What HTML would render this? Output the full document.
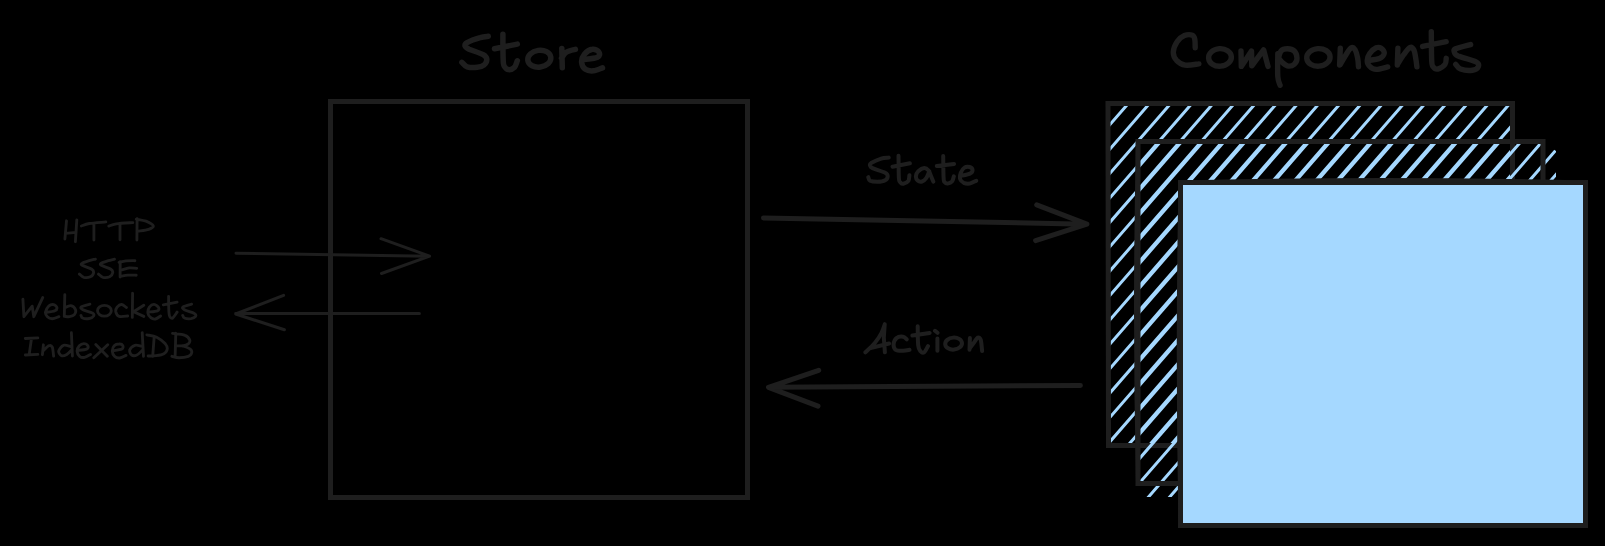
<!DOCTYPE html>
<html><head><meta charset="utf-8"><title>Store and Components</title>
<style>html,body{margin:0;padding:0;background:#000;width:1605px;height:546px;overflow:hidden;font-family:"Liberation Sans",sans-serif}svg{display:block}</style>
</head><body>
<svg width="1605" height="546" viewBox="0 0 1605 546">
<rect x="0" y="0" width="1605" height="546" fill="#000"/>
<defs>
<clipPath id="cb"><rect x="1110" y="105" width="401" height="339"/></clipPath>
<clipPath id="cm"><polygon points="1139,143 1544,143 1556,151 1556,497 1139,497"/></clipPath>
</defs>
<path clip-path="url(#cb)" d="M1081.3,60 L664.1,540 M1102.5,60 L685.3,540 M1123.7,60 L706.5,540 M1144.9,60 L727.7,540 M1166.1,60 L748.9,540 M1187.3,60 L770.1,540 M1208.5,60 L791.3,540 M1229.7,60 L812.5,540 M1250.9,60 L833.7,540 M1272.1,60 L854.9,540 M1293.3,60 L876.1,540 M1314.5,60 L897.3,540 M1335.7,60 L918.5,540 M1356.9,60 L939.7,540 M1378.1,60 L960.9,540 M1399.3,60 L982.1,540 M1420.5,60 L1003.3,540 M1441.7,60 L1024.5,540 M1462.9,60 L1045.7,540 M1484.1,60 L1066.9,540 M1505.3,60 L1088.1,540 M1526.5,60 L1109.3,540 M1547.7,60 L1130.5,540 M1568.9,60 L1151.7,540 M1590.1,60 L1172.9,540 M1611.3,60 L1194.1,540 M1632.5,60 L1215.3,540 M1653.7,60 L1236.5,540 M1674.9,60 L1257.7,540 M1696.1,60 L1278.9,540 M1717.3,60 L1300.1,540 M1738.5,60 L1321.3,540 M1759.7,60 L1342.5,540 M1780.9,60 L1363.7,540 M1802.1,60 L1384.9,540 M1823.3,60 L1406.1,540 M1844.5,60 L1427.3,540 M1865.7,60 L1448.5,540 M1886.9,60 L1469.7,540 M1908.1,60 L1490.9,540 M1929.3,60 L1512.1,540 M1950.5,60 L1533.3,540 M1971.7,60 L1554.5,540 M1992.9,60 L1575.7,540 M2014.1,60 L1596.9,540" stroke="#a5d8ff" stroke-width="3.0" fill="none"/>
<path d="M1108,103.5 L1512.5,103.5 L1512.5,445.5 L1108.5,445.5 Z" fill="none" stroke="#1e1e1e" stroke-width="5" stroke-linejoin="miter"/>
<path clip-path="url(#cm)" d="M1083.1,60 L665.9,540 M1104.3,60 L687.1,540 M1125.5,60 L708.3,540 M1146.7,60 L729.5,540 M1167.9,60 L750.7,540 M1189.1,60 L771.9,540 M1210.3,60 L793.1,540 M1231.5,60 L814.3,540 M1252.7,60 L835.5,540 M1273.9,60 L856.7,540 M1295.1,60 L877.9,540 M1316.3,60 L899.1,540 M1337.5,60 L920.3,540 M1358.7,60 L941.5,540 M1379.9,60 L962.7,540 M1401.1,60 L983.9,540 M1422.3,60 L1005.1,540 M1443.5,60 L1026.3,540 M1464.7,60 L1047.5,540 M1485.9,60 L1068.7,540 M1507.1,60 L1089.9,540 M1528.3,60 L1111.1,540 M1549.5,60 L1132.3,540 M1570.7,60 L1153.5,540 M1591.9,60 L1174.7,540 M1613.1,60 L1195.9,540 M1634.3,60 L1217.1,540 M1655.5,60 L1238.3,540 M1676.7,60 L1259.5,540 M1697.9,60 L1280.7,540 M1719.1,60 L1301.9,540 M1740.3,60 L1323.1,540 M1761.5,60 L1344.3,540 M1782.7,60 L1365.5,540 M1803.9,60 L1386.7,540 M1825.1,60 L1407.9,540 M1846.3,60 L1429.1,540 M1867.5,60 L1450.3,540 M1888.7,60 L1471.5,540 M1909.9,60 L1492.7,540 M1931.1,60 L1513.9,540 M1952.3,60 L1535.1,540 M1973.5,60 L1556.3,540 M1994.7,60 L1577.5,540 M2015.9,60 L1598.7,540" stroke="#a5d8ff" stroke-width="3.0" fill="none"/>
<path d="M1138,141.5 L1543,141.5 L1543,483.5 L1138,483.5 Z" fill="none" stroke="#1e1e1e" stroke-width="5"/>
<path d="M1180.5,182.5 L1585.5,182.5 L1585.5,525.5 L1180.5,525.5 Z" fill="#a5d8ff" stroke="#1e1e1e" stroke-width="5"/>
<path d="M1181,182.5 Q1383,177.5 1585,182.5 M1180.5,183 Q1177,350 1180.5,525.5 M1138,142 Q1134,310 1138,483" fill="none" stroke="#1e1e1e" stroke-width="4"/>
<path d="M330.5,101.5 L747.5,101.5 L747.5,497.5 L330.5,497.5 Z" fill="none" stroke="#1e1e1e" stroke-width="5"/>
<path d="M236,253.2 L429.6,256.2 M381,238.7 L429.6,256.1 L381.5,273.5" fill="none" stroke="#1e1e1e" stroke-width="3" stroke-linecap="round" stroke-linejoin="round"/>
<path d="M419.4,313.6 L235.7,313.5 M283.6,295.3 L235.7,314 L284.4,329.8" fill="none" stroke="#1e1e1e" stroke-width="3" stroke-linecap="round" stroke-linejoin="round"/>
<path d="M763.5,217.9 L1086.9,224.2 M1036.7,204.8 L1086.9,224.2 L1035.6,240.6" fill="none" stroke="#1e1e1e" stroke-width="5" stroke-linecap="round" stroke-linejoin="round"/>
<path d="M1080.4,385.5 L768.5,387.3 M818.7,370.3 L768.5,387.3 L818,406.2" fill="none" stroke="#1e1e1e" stroke-width="5" stroke-linecap="round" stroke-linejoin="round"/>
<path d="M66.5,220.8 L64.9,239 M76.8,219.9 L75.4,241.7 M65.6,233.4 L76.1,232.3 M81.4,226 C82.7,225.6 85.2,224.2 89.3,223.5 C93.4,222.9 103,222.2 105.8,221.9 M93.9,223.7 L93.9,240 M108.8,226.1 C110,225.7 112.3,224.5 116.3,223.9 C120.4,223.3 130.1,222.8 132.8,222.6 M120,224.2 L120,239.7 M137.1,218.6 L136.9,240 M136.3,219.1 C137.9,219.5 143.2,220.1 146,221.2 C148.9,222.4 152.8,224.5 153.3,225.9 C153.7,227.2 151.2,228.4 148.7,229.3 C146.1,230.2 139.9,230.8 138.1,231.1 M95.4,259.1 C94.3,259.4 91.3,260 89.1,260.7 C86.9,261.4 83.3,262.4 82.2,263.2 C81,264 80.6,264.3 82.2,265.3 C83.8,266.3 89.9,268 91.8,269.2 C93.7,270.5 93.8,271.5 93.6,272.7 C93.4,274 92.1,275.9 90.4,276.7 C88.8,277.5 85.7,277.8 83.8,277.4 C82,276.9 80.1,274.6 79.4,274.1 M114.5,259.1 C113.5,259.4 110.4,260 108.2,260.7 C106,261.4 102.5,262.4 101.3,263.2 C100.2,264 99.7,264.3 101.3,265.3 C102.9,266.3 109,268 110.9,269.2 C112.8,270.5 112.9,271.5 112.7,272.7 C112.5,274 111.2,275.9 109.6,276.7 C107.9,277.5 104.8,277.8 103,277.4 C101.1,276.9 99.2,274.6 98.5,274.1 M120.2,261.7 L120.1,277 M119.1,262.4 C120.3,262.1 123.4,261.2 126,260.9 C128.7,260.6 133.4,260.7 134.9,260.7 M122.1,269.8 C123.3,269.5 126.9,268.2 129.3,267.9 C131.8,267.7 135.5,268.3 136.7,268.3 M120.2,276.4 C121.5,276.2 125.3,275.4 128,275.2 C130.7,275 134.9,275.2 136.2,275.2 M22.9,299.2 L23.9,316.7 L32.2,306.2 L33.8,316.7 L42.7,297.6 M45.7,312.4 C47.2,312.2 53.1,311.6 54.9,310.8 C56.8,310 57.1,308.5 56.9,307.5 C56.7,306.5 54.9,304.9 53.6,304.6 C52.3,304.4 50.4,304.6 49,305.8 C47.7,307.1 45.8,310.3 45.5,312.1 C45.2,313.9 46.2,315.6 47.4,316.7 C48.5,317.8 50.4,318.7 52.3,318.7 C54.2,318.7 57.8,317 58.9,316.7 M64.8,294.7 L64.3,316.4 M64.5,307.8 C65.5,307.4 69,305.4 70.8,305.6 C72.6,305.9 74.8,307.9 75.4,309.5 C76,311 75.4,313.5 74.4,314.7 C73.4,315.9 71.1,316.4 69.5,316.7 C67.8,317 65.3,316.4 64.5,316.4 M89.9,304.2 C88.5,304.6 82.5,305.9 81.3,306.8 C80.2,307.8 81.1,308.7 83,309.8 C84.8,310.8 90.8,312 92.5,313.1 C94.3,314.1 94.1,315.2 93.5,316.1 C93,317 91.1,318.2 89.2,318.5 C87.4,318.8 84,318.6 82.6,318 C81.3,317.5 81.3,315.8 81,315.4 M126.4,307.5 C125.6,307 123.3,304.6 121.8,304.5 C120.2,304.4 118.1,305.9 117.1,307.1 C116.2,308.3 115.5,310.2 115.8,311.8 C116.2,313.3 117.1,315.7 119.1,316.4 C121.1,317.1 126.3,316.1 127.7,316 M132.6,293.3 L132.3,317.4 M143.8,305.2 L133.6,311.8 L143.8,316.4 M148.5,312.1 C149.9,311.9 155.6,311.5 157.4,310.8 C159.1,310.1 159.2,308.9 158.7,307.8 C158.1,306.7 155.6,304.5 154.1,304.4 C152.5,304.3 150.5,305.7 149.4,307.1 C148.4,308.6 147.7,311.3 147.9,313.1 C148.1,314.8 149.5,316.7 150.8,317.7 C152,318.7 153.7,319.3 155.4,319 C157,318.7 159.8,316.5 160.6,316 M168.6,296.3 C168.6,298.8 168.7,308.4 168.9,311.8 C169.1,315.1 169.1,315.3 169.7,316.4 C170.3,317.4 171.3,318.9 172.5,318.2 C173.7,317.5 176.4,313.1 177.1,312.1 M163.3,304.8 L177.1,302.2 M191.6,304.2 C190.2,304.6 184.3,305.9 183.1,306.8 C181.9,307.7 182.5,308.7 184.4,309.8 C186.2,310.9 192.4,312.3 194.3,313.4 C196.1,314.5 196.1,315.5 195.6,316.4 C195,317.2 192.8,318.4 191,318.7 C189.1,318.9 185.8,318.6 184.4,318 C183,317.5 183,315.8 182.7,315.4 M25.3,338.5 L37.8,337.9 M31.5,338.5 L29.2,354.4 M25.3,355 L37.8,354.4 M43.4,344.8 L42.4,354.7 M43,351.1 C44,350.2 47.4,346.3 49,345.7 C50.5,345 51.5,345.4 52.3,347.1 C53,348.8 53.4,354.5 53.6,356 M70.7,346.5 C69.5,346.3 65.5,344.5 63.5,345.3 C61.5,346 59.1,349.3 58.7,351.1 C58.4,352.8 60.2,355.1 61.5,355.7 C62.8,356.2 65.1,355.4 66.8,354.4 C68.5,353.4 70.9,350.5 71.7,349.8 M71.4,332.7 L72.4,356 M77.3,350.4 C78.9,350.2 84.8,349.9 86.6,349.1 C88.3,348.3 88.3,346.7 87.9,345.8 C87.4,344.9 85.3,343.6 83.9,343.6 C82.5,343.6 80.4,344.6 79.3,345.8 C78.2,347 77.1,349.3 77.1,351.1 C77.2,352.8 78.4,355.3 79.6,356.3 C80.9,357.4 82.8,357.7 84.6,357.3 C86.4,357 89.5,354.9 90.5,354.4 M95.8,344.5 L107.3,356.3 M107.7,344.8 L93.8,357.7 M112.9,350.7 C114.3,350.5 120.1,350 121.8,349.1 C123.4,348.2 123.2,346.3 122.7,345.5 C122.3,344.6 120.5,343.9 119.1,344 C117.7,344 115.3,344.6 114.2,345.8 C113,347 112.3,349.3 112.3,351.1 C112.4,352.8 113.3,355.2 114.5,356.3 C115.7,357.5 117.9,358.2 119.8,358 C121.7,357.8 125,355.8 126,355.4 M141.5,346.1 C140.4,346 136.9,344.7 134.9,345.3 C133,345.9 130.3,348.1 129.8,349.8 C129.2,351.4 130.5,354.1 131.6,355 C132.8,355.9 135.2,355.8 136.9,355 C138.7,354.3 141.3,351.2 142.2,350.4 M142.2,332.7 L143.5,356.3 M154.1,337.9 L152.7,356.3 M146.9,334.9 C148.6,335.3 153.6,335.7 156.7,337.2 C159.7,338.7 163.5,341.8 165.3,343.8 C167,345.8 167.5,347.4 167.2,349.1 C167,350.7 165.8,352.6 163.9,353.7 C162.1,354.8 158.7,355.3 156,355.7 C153.4,356.1 149.4,356 148.1,356 M175.8,333.3 L175.1,357 M172.5,333.4 C174.6,333.7 182.2,334.2 185,335.3 C187.9,336.3 189.1,338.4 189.7,339.9 C190.2,341.3 189.5,342.8 188.3,343.8 C187.1,344.8 184.5,345.5 182.4,345.8 C180.3,346.1 176.9,345.8 175.8,345.8 M182.4,345.8 C183.7,346.3 188.8,347.9 190.3,349.1 C191.8,350.3 192,351.8 191.6,353 C191.3,354.3 190.4,355.6 188.3,356.3 C186.2,357.1 181.9,357.7 179.1,357.7 C176.4,357.7 173.1,356.6 171.9,356.3" fill="none" stroke="#1e1e1e" stroke-width="2.85" stroke-linecap="round" stroke-linejoin="round"/>
<path d="M488.3,36.3 C486.9,36.5 483.7,36.5 480.2,37.6 C476.7,38.6 469.6,41.2 467.1,42.6 C464.6,44.1 464.8,45.1 465.1,46.1 C465.4,47.2 466.1,47.7 469.1,49.2 C472.2,50.6 480.3,53 483.2,54.7 C486.2,56.4 486.6,57.6 486.8,59.2 C486.9,60.9 485.8,63.4 484.2,64.8 C482.6,66.1 480,67 477.2,67.3 C474.3,67.6 469.7,67.6 467.1,66.8 C464.6,66 462.8,63 461.9,62.3 M502.9,34.3 C502.9,38.6 502.9,54.9 503.2,60.2 C503.4,65.6 503.5,64.7 504.4,66.3 C505.3,67.8 506.7,69.4 508.4,69.6 C510.1,69.8 513,68.8 514.5,67.3 C515.9,65.8 516.8,61.8 517.3,60.8 M494.5,48.7 L517.3,44.1 M561.8,48.4 L562.3,67.8 M561.5,58.2 C562.3,57.2 564,53.7 566.3,52.2 C568.6,50.7 573.8,49.8 575.4,49.4 M583.4,59.7 C585.8,59.3 594.9,58.5 597.5,57.2 C600.1,56 599.9,53.5 599,52.2 C598.2,50.8 594.9,48.8 592.5,49.2 C590,49.5 586.2,52 584.4,54.2 C582.6,56.4 581.4,59.7 581.6,62.3 C581.8,64.8 583.4,67.9 585.4,69.3 C587.4,70.7 590.6,71.1 593.5,70.8 C596.3,70.6 601,68.3 602.5,67.8" fill="none" stroke="#1e1e1e" stroke-width="5.5" stroke-linecap="round" stroke-linejoin="round"/>
<path d="M1195.2,47.8 C1195.1,46.4 1195.3,41.4 1194.8,39.3 C1194.3,37.2 1194.1,35.8 1192.4,35.2 C1190.7,34.6 1187,34.5 1184.4,35.6 C1181.9,36.7 1178.9,38.9 1177.1,41.7 C1175.2,44.5 1173.4,49.1 1173.3,52.2 C1173.2,55.3 1174.5,58.1 1176.5,60.3 C1178.5,62.4 1181.5,64.5 1185.2,65.1 C1188.9,65.7 1196.6,64.1 1198.9,63.9 M1277.8,53.7 C1277.8,57.5 1277.4,71.3 1277.8,76.6 C1278.2,81.9 1279.7,83.8 1280.1,85.3 M1278.2,59.2 C1278.7,57.8 1279.5,52.8 1281,51 C1282.5,49.2 1285.2,48.7 1287.4,48.7 C1289.6,48.7 1292.7,49.4 1294.3,51 C1295.9,52.6 1297,56.1 1297,58.3 C1297,60.5 1295.8,63 1294.3,64.3 C1292.8,65.6 1290.2,66.3 1288.3,66.1 C1286.4,65.9 1284.4,64.2 1282.8,62.9 C1281.2,61.6 1279.4,59.1 1278.7,58.3 M1241,51 L1241.3,66.4 L1251.5,51 L1251.8,65.8 L1263.6,49.8 L1268,66.4 M1340.3,48.3 L1339.6,65 M1340.3,64.4 C1341.2,62.8 1344.2,57.5 1346,54.7 C1347.8,52 1349.7,48.7 1351.2,47.8 C1352.6,47 1353.9,47.9 1355,49.6 C1356.1,51.3 1357,55.1 1357.6,57.9 C1358.2,60.8 1358.4,65.4 1358.5,66.9 M1367.8,60.5 C1369.7,60.2 1376.6,59.8 1379.4,58.6 C1382.1,57.4 1383.8,55.2 1384.2,53.5 C1384.5,51.8 1382.6,49.3 1381.3,48.3 C1379.9,47.4 1378.1,47 1376.2,47.8 C1374.2,48.7 1371.2,51.3 1369.7,53.5 C1368.2,55.6 1367.2,58.4 1367.2,60.5 C1367.2,62.6 1368.2,64.8 1369.7,66.3 C1371.2,67.8 1373.2,69.3 1376.2,69.4 C1379.1,69.5 1385.8,67.3 1387.7,66.9 M1397.9,48.3 L1397.3,65 M1397.9,63.7 C1398.9,62.2 1401.7,57.4 1403.7,54.7 C1405.7,52 1408.4,48.2 1410.1,47.5 C1411.8,46.8 1413,48.3 1414,50.3 C1414.9,52.2 1415.4,56.5 1415.9,59.2 C1416.4,62 1416.7,65.6 1416.9,66.9 M1431.3,31.8 C1431.4,36.6 1431.4,54.9 1431.7,60.7 C1432,66.5 1432.1,65.3 1433.1,66.7 C1434.1,68.1 1435.9,69.4 1437.9,69 C1439.8,68.7 1443.6,66.1 1445,64.3 C1446.4,62.5 1446,59.3 1446.2,58.3 M1422.6,46.4 L1446.2,41.7 M1470.6,44.6 C1468.1,45.3 1458.4,47.5 1455.7,48.8 C1453,50.1 1454.1,51.2 1454.5,52.4 C1454.9,53.6 1454.5,54.4 1458.1,56 C1461.7,57.5 1472.6,60.1 1476,61.9 C1479.3,63.7 1478.9,65.3 1478.3,66.7 C1477.7,68.1 1475.4,69.8 1472.4,70.2 C1469.4,70.6 1463.3,70 1460.5,69 C1457.7,68.1 1456.5,65.1 1455.7,64.3" fill="none" stroke="#1e1e1e" stroke-width="5.4" stroke-linecap="round" stroke-linejoin="round"/>
<path d="M888.7,157.6 C887.5,157.8 884.1,157.7 881.2,158.6 C878.2,159.5 873,162 871.1,163.1 C869.3,164.3 869.9,164.8 870.1,165.6 C870.4,166.5 870.1,167 872.6,168.2 C875.1,169.3 882.7,171.4 885.2,172.7 C887.7,174 887.7,175 887.7,176.2 C887.7,177.5 887,179.3 885.2,180.2 C883.4,181.2 879.7,181.7 877.2,181.8 C874.6,181.8 871.6,181.5 870.1,180.8 C868.6,180 868.6,177.8 868.3,177.2 M898.5,155.8 C898.6,159.5 898.6,173.8 898.9,178.2 C899.2,182.6 899.6,181.3 900.3,182.3 C901.1,183.2 902,184 903.3,183.8 C904.7,183.5 907.4,182.2 908.4,180.8 C909.4,179.3 909.2,176.1 909.4,175.2 M892.5,166.7 L909.9,163.3 M933.3,181.6 C932.9,180.6 931.6,177.5 930.8,175.6 C930,173.8 929.7,171.8 928.6,170.5 C927.5,169.3 925.9,168 924.2,168.1 C922.5,168.2 919.7,169.9 918.3,171.2 C916.9,172.6 916,174.8 915.9,176.4 C915.8,177.9 916.6,179.5 917.6,180.4 C918.6,181.3 920.5,181.9 922,181.5 C923.4,181.1 925.2,179.5 926.4,177.8 C927.6,176.1 928.8,172.3 929.3,171.2 M943.2,156 C943.3,159.6 943.3,173.5 943.6,177.8 C943.8,182.2 944,181.3 944.7,182.2 C945.4,183.2 946.4,183.7 947.6,183.6 C948.8,183.4 951,182.7 952,181.5 C953.1,180.3 953.5,177.2 953.8,176.4 M936.8,166.1 L954.1,163.9 M961.5,175.6 C963,175.3 968.5,174.4 970.3,173.4 C972.2,172.5 972.6,170.9 972.5,169.8 C972.4,168.7 970.9,167.4 969.6,167 C968.3,166.6 965.9,166.6 964.5,167.6 C963,168.5 961.5,170.8 960.8,172.7 C960.1,174.7 959.7,177.6 960.2,179.3 C960.7,181 962.2,182.1 963.7,182.8 C965.3,183.5 967.5,183.9 969.6,183.6 C971.7,183.2 975.1,181.2 976.2,180.8 M865.4,352.3 C867,350.8 872.1,346.2 874.8,343 C877.5,339.8 879.8,336.2 881.4,333.1 C883,330 884.2,325.8 884.7,324.3 M884.7,324.3 L883.8,337.5 L884.9,352.3 M871.5,347.9 L889.1,343.5 M906.7,339.3 C906.1,338.9 904.7,336.9 903.1,336.7 C901.4,336.5 898.2,336.6 896.7,337.9 C895.1,339.2 893.8,342.3 893.6,344.3 C893.5,346.3 894.2,348.7 895.7,349.8 C897.3,350.9 900.8,350.7 903.1,350.7 C905.4,350.7 908.4,350 909.5,349.8 M917.7,326.2 C917.8,329.4 917.7,341.1 918.2,345.2 C918.6,349.4 919.5,350 920.5,351.2 C921.5,352.4 922.9,353.2 924.1,352.4 C925.4,351.5 927.3,347.2 928,346.2 M912.4,335.6 L929.6,332.9 M935,330.8 L937.5,332.8 M937.4,338.5 L937.4,350.7 M969.9,338.1 L969.5,349.8 M969.9,348 C970.6,347.1 972.8,344.2 974.1,342.5 C975.4,340.8 976.6,338.1 977.7,337.6 C978.8,337.2 979.9,337.5 980.7,339.7 C981.4,342 981.9,349.1 982.1,351" fill="none" stroke="#1e1e1e" stroke-width="4.0" stroke-linecap="round" stroke-linejoin="round"/>
<ellipse cx="104.4" cy="310.8" rx="6.9" ry="5.4" transform="rotate(0 104.4 310.8)" fill="none" stroke="#1e1e1e" stroke-width="2.85"/>
<ellipse cx="539.3" cy="58.7" rx="11.6" ry="8.4" transform="rotate(-8 539.3 58.7)" fill="none" stroke="#1e1e1e" stroke-width="5.5"/>
<ellipse cx="1220" cy="57.4" rx="11.4" ry="8.8" transform="rotate(-4 1220 57.4)" fill="none" stroke="#1e1e1e" stroke-width="5.4"/>
<ellipse cx="1318.4" cy="57.4" rx="11.7" ry="8.8" transform="rotate(-4 1318.4 57.4)" fill="none" stroke="#1e1e1e" stroke-width="5.4"/>
<ellipse cx="953.6" cy="343.6" rx="8.4" ry="6" transform="rotate(-5 953.6 343.6)" fill="none" stroke="#1e1e1e" stroke-width="4.0"/>
</svg>
</body></html>
